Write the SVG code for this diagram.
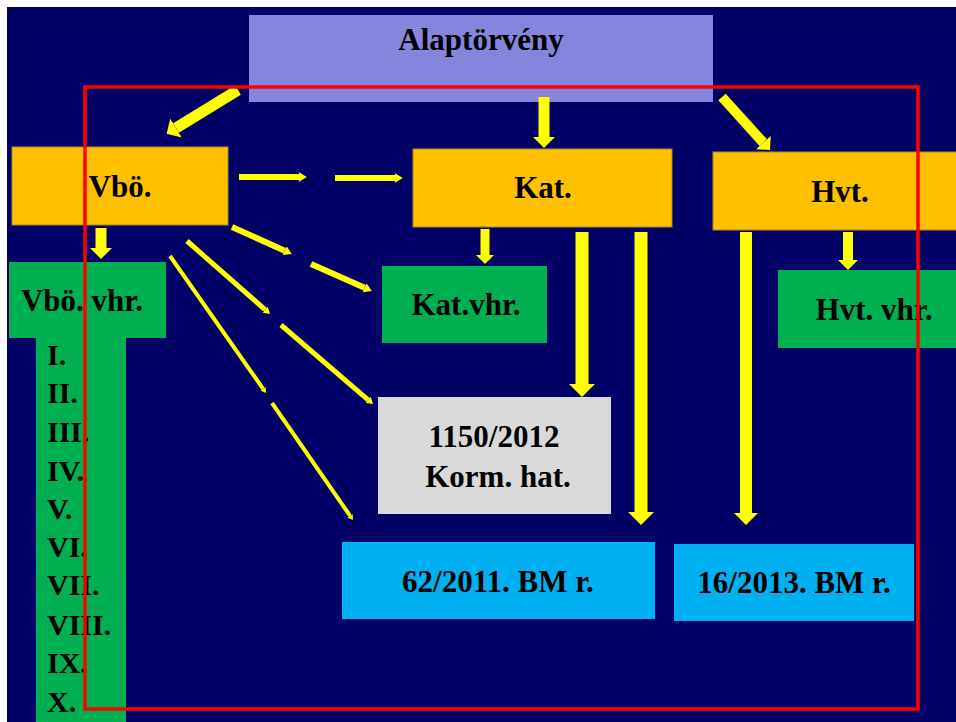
<svg xmlns="http://www.w3.org/2000/svg" width="956" height="722" viewBox="0 0 956 722">
<style>
text{font-family:"Liberation Serif","Times New Roman",serif;font-weight:bold;fill:#000;}
.t{font-size:31px;text-anchor:middle;}
.r{font-size:30px;}
.org{fill:#FFC000;stroke:#B08A20;stroke-width:1;}
.grn{fill:#00B050;}
.blu{fill:#00B0F0;}
.gry{fill:#D9D9D9;}
.big{stroke:#FFFF00;fill:none;marker-end:url(#ah);}
.sm{stroke:#FFFF00;fill:none;marker-end:url(#as);}
</style>
<defs>
<marker id="ah" viewBox="0 0 5 10" refX="0" refY="5" markerWidth="1" markerHeight="2" orient="auto" markerUnits="strokeWidth">
<path d="M0,0 L5,5 L0,10 z" fill="#FFFF00"/>
</marker>
<marker id="as" viewBox="0 0 6.5 8" refX="0" refY="4" markerWidth="1.3" markerHeight="1.6" orient="auto" markerUnits="strokeWidth">
<path d="M0,0 L6.5,4 L0,8 z" fill="#FFFF00"/>
</marker>
</defs>
<rect x="0" y="0" width="956" height="722" fill="#FFFFFF"/>
<rect x="7" y="7" width="949" height="715" fill="#000066"/>

<g id="alaptorveny">
<rect x="249" y="15" width="464" height="87" fill="#8585DE"/>
<text class="t" x="481" y="50">Alaptörvény</text>
</g>
<g id="vbo">
<rect class="org" x="12" y="147" width="216" height="78"/>
<text class="t" x="120" y="197">Vbö.</text>
</g>
<g id="kat">
<rect class="org" x="413" y="149" width="259" height="78"/>
<text class="t" x="543" y="198">Kat.</text>
</g>
<g id="hvt">
<rect class="org" x="713" y="152" width="250" height="78"/>
<text class="t" x="840" y="202">Hvt.</text>
</g>
<g id="vbo-vhr">
<path class="grn" d="M9,262 H166 V338 H126 V722 H36 V338 H9 Z"/>
<text class="t" x="82" y="311">Vbö. vhr.</text>
<text class="r" x="47" y="365">I.</text>
<text class="r" x="47" y="403">II.</text>
<text class="r" x="47" y="442">III.</text>
<text class="r" x="47" y="481">IV.</text>
<text class="r" x="47" y="519">V.</text>
<text class="r" x="47" y="557">VI.</text>
<text class="r" x="47" y="595">VII.</text>
<text class="r" x="47" y="635">VIII.</text>
<text class="r" x="47" y="673">IX.</text>
<text class="r" x="47" y="712">X.</text>
</g>
<g id="kat-vhr">
<rect class="grn" x="382" y="266" width="165" height="77"/>
<text class="t" x="466" y="315">Kat.vhr.</text>
</g>
<g id="hvt-vhr">
<rect class="grn" x="778" y="270" width="185" height="78"/>
<text class="t" x="874" y="320">Hvt. vhr.</text>
</g>
<g id="korm-hat">
<rect class="gry" x="378" y="397" width="233" height="117"/>
<text class="t" x="494" y="447">1150/2012</text>
<text class="t" x="498" y="487">Korm. hat.</text>
</g>
<g id="bm-62-2011">
<rect class="blu" x="342" y="542" width="313" height="77"/>
<text class="t" x="498" y="592">62/2011. BM r.</text>
</g>
<g id="bm-16-2013">
<rect class="blu" x="674" y="544" width="240" height="77"/>
<text class="t" x="794" y="593">16/2013. BM r.</text>
</g>

<g id="connectors">
<line class="big" x1="238" y1="90" x2="176" y2="128" stroke-width="11"/>
<line class="big" x1="544" y1="97" x2="544" y2="137" stroke-width="11"/>
<line class="big" x1="722" y1="97" x2="763.3" y2="142.6" stroke-width="10"/>
<line class="big" x1="101" y1="228" x2="101" y2="248" stroke-width="11"/>
<line class="big" x1="485" y1="229" x2="485" y2="255" stroke-width="9"/>
<line class="big" x1="582" y1="232" x2="582" y2="384" stroke-width="13"/>
<line class="big" x1="641" y1="232" x2="641" y2="512" stroke-width="13"/>
<line class="big" x1="746" y1="232" x2="746" y2="513" stroke-width="12"/>
<line class="big" x1="848" y1="232" x2="848" y2="260" stroke-width="10"/>
<line class="sm" x1="239" y1="177" x2="299" y2="177" stroke-width="6"/>
<line class="sm" x1="335" y1="178" x2="395" y2="178" stroke-width="6"/>
<line class="sm" x1="232" y1="227" x2="284.7" y2="250.7" stroke-width="6"/>
<line class="sm" x1="311" y1="264" x2="364.7" y2="287.8" stroke-width="6"/>
<line class="sm" x1="187" y1="241" x2="265.1" y2="309.7" stroke-width="5"/>
<line class="sm" x1="281" y1="325" x2="368.1" y2="399.8" stroke-width="5"/>
<line class="sm" x1="170" y1="256" x2="263" y2="388.7" stroke-width="4"/>
<line class="sm" x1="272" y1="403" x2="350" y2="515.7" stroke-width="4"/>
</g>

<rect id="frame" x="85" y="87" width="833" height="622" fill="none" stroke="#FF0000" stroke-width="3.5"/>
</svg>
